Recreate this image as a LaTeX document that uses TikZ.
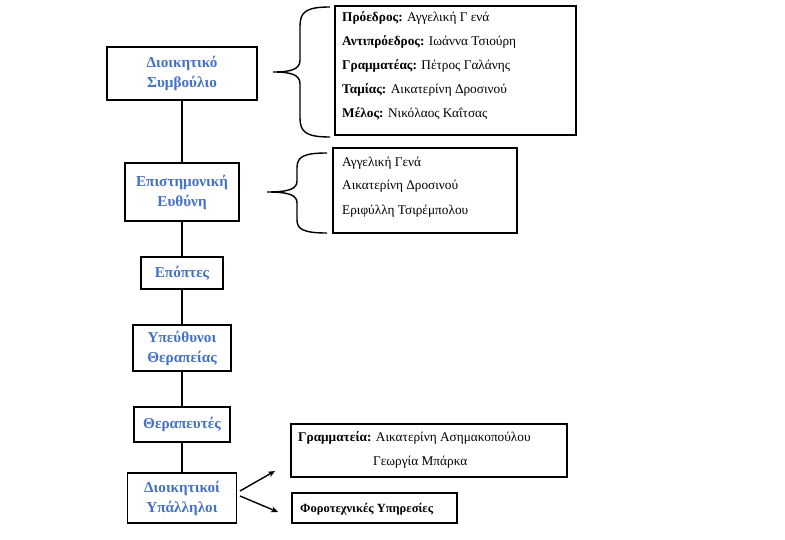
\documentclass[tikz,border=0pt]{standalone}
\usepackage{fontspec}
\setmainfont{Liberation Serif}
\usetikzlibrary{arrows.meta}
\definecolor{hblue}{HTML}{4472C4}
\tikzset{
  unit/.style={draw, line width=1.6pt, fill=white, align=center, font=\bfseries\fontsize{15.2}{20}\selectfont, text=hblue, inner sep=0pt},
  listbox/.style={draw, line width=1.6pt, inner sep=0pt},
  ltext/.style={anchor=base west, inner sep=0pt, font=\fontsize{13.3}{16}\selectfont},
  link/.style={line width=1.6pt},
  brace/.style={line width=1.4pt},
  arr/.style={line width=1.4pt, -{Stealth[length=7pt,width=6pt]}}
}
\begin{document}
\begin{tikzpicture}[x=1pt,y=1pt]
\useasboundingbox (0,0) rectangle (785,-540);
% units
\node[unit, minimum width=150, minimum height=53] (ds) at (182,-73.5) {Διοικητικό\\Συμβούλιο};
\node[unit, minimum width=114, minimum height=58] (ep) at (182,-192) {Επιστημονική\\Ευθύνη};
\node[unit, minimum width=82, minimum height=32] (eo) at (182,-273) {Επόπτες};
\node[unit, minimum width=98, minimum height=46] (yt) at (182,-348) {Υπεύθυνοι\\Θεραπείας};
\node[unit, minimum width=96, minimum height=35] (th) at (182,-424.5) {Θεραπευτές};
\node[unit, minimum width=109, minimum height=50] (dy) at (182,-498) {Διοικητικοί\\Υπάλληλοι};
% list box 1
\node[listbox, minimum width=241, minimum height=129] (l1) at (455.5,-70.5) {};
\node[ltext] (l1a) at (342,-21.5) {\textbf{Πρόεδρος:} Αγγελική Γ ενά};
\node[ltext] (l1b) at (342,-45.5) {\textbf{Αντιπρόεδρος:} Ιωάννα Τσιούρη};
\node[ltext] (l1c) at (342,-69.5) {\textbf{Γραμματέας:} Πέτρος Γαλάνης};
\node[ltext] (l1d) at (342,-93.5) {\textbf{Ταμίας:} Αικατερίνη Δροσινού};
\node[ltext] (l1e) at (342,-117.5) {\textbf{Μέλος:} Νικόλαος Καΐτσας};
% list box 2
\node[listbox, minimum width=184, minimum height=85] (l2) at (425,-190.5) {};
\node[ltext] (l2a) at (342,-166.5) {Αγγελική Γενά};
\node[ltext] (l2b) at (342,-190) {Αικατερίνη Δροσινού};
\node[ltext] (l2c) at (342,-214.5) {Εριφύλλη Τσιρέμπολου};
% secretariat
\node[listbox, minimum width=276, minimum height=53] (gr) at (429,-450.5) {};
\node[ltext] (grt1) at (298,-441.5) {\textbf{Γραμματεία:} Αικατερίνη Ασημακοπούλου};
\node[ltext] (grt2) at (373,-465.5) {Γεωργία Μπάρκα};
\node[listbox, minimum width=165, minimum height=30] (fy) at (374.5,-508) {};
\node[ltext, font=\bfseries\fontsize{12.5}{15}\selectfont] (fyt) at (300,-512.5) {Φοροτεχνικές Υπηρεσίες};
% vertical links
\draw[link] (ds.south) -- (ep.north);
\draw[link] (ep.south) -- (eo.north);
\draw[link] (eo.south) -- (yt.north);
\draw[link] (yt.south) -- (th.north);
\draw[link] (th.south) -- (dy.north);
% braces
\coordinate (b1t) at (330,-7);
\coordinate (b1m) at (273,-72);
\coordinate (b1b) at (330,-137);
\draw[brace] (b1t) .. controls (306,-7) and (300,-12) .. (300,-26) -- (300,-60)
  .. controls (300,-69) and (292,-72) .. (b1m)
  .. controls (292,-72) and (300,-75) .. (300,-84) -- (300,-118)
  .. controls (300,-132) and (306,-137) .. (b1b);
\coordinate (b2t) at (327,-153);
\coordinate (b2m) at (267,-192);
\coordinate (b2b) at (327,-233);
\draw[brace] (b2t) .. controls (303,-153) and (297,-157) .. (297,-168) -- (297,-181)
  .. controls (297,-189) and (289,-192) .. (b2m)
  .. controls (289,-192) and (297,-195) .. (297,-203) -- (297,-220)
  .. controls (297,-229) and (303,-233) .. (b2b);
% arrows
\coordinate (a1s) at (240,-491);
\coordinate (a1e) at (275,-471);
\coordinate (a2s) at (240,-496);
\coordinate (a2e) at (278,-512);
\draw[arr] (a1s) -- (a1e);
\draw[arr] (a2s) -- (a2e);
\end{tikzpicture}
\end{document}
